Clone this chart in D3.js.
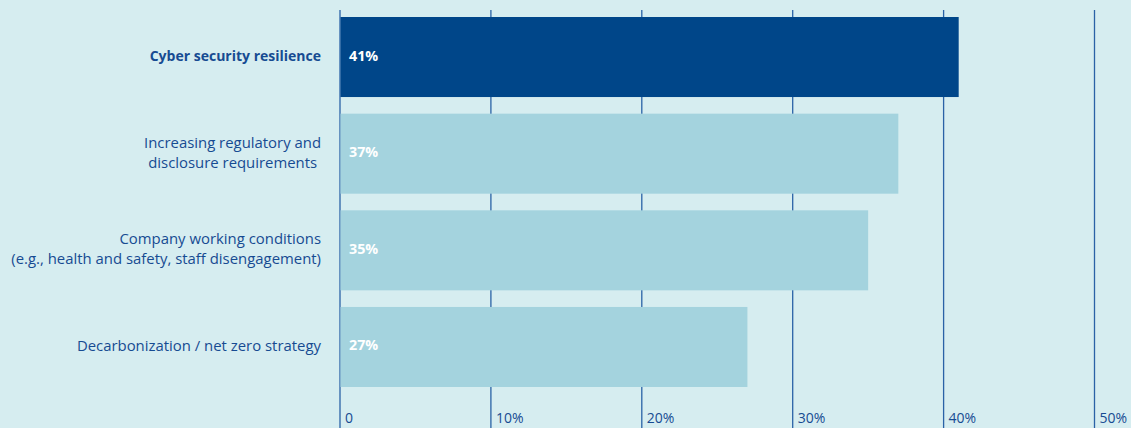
<!DOCTYPE html>
<html><head><meta charset="utf-8">
<script src="https://cdn.jsdelivr.net/npm/d3@7/dist/d3.min.js"></script>
<style>
html,body{margin:0;padding:0;background:#d6edf0;}
svg{display:block;}
text{font-family:"Open Sans",sans-serif;}
</style></head>
<body>
<script>
const categories = [
  ["Cyber security resilience"],
  ["Increasing regulatory and", "disclosure requirements "],
  ["Company working conditions", "(e.g., health and safety, staff disengagement)"],
  ["Decarbonization / net zero strategy"]
];
const values = [41, 37, 35, 27];
const highlight = [true, false, false, false];
const tickValues = [0, 10, 20, 30, 40, 50];
const tickLabels = ["0", "10%", "20%", "30%", "40%", "50%"];

const W = 1131, H = 428;
const svg = d3.select("body").append("svg").attr("width", W).attr("height", H);
svg.append("rect").attr("width", W).attr("height", H).attr("fill", "#d6edf0");

const x = d3.scaleLinear().domain([0, 50]).range([340, 1094.5]);
const y = d3.scaleBand().domain(d3.range(categories.length)).range([17, 387]).paddingInner(0.172).paddingOuter(0);

const textColor = "#164b92";
const gridColor = "#2a62a6";

// gridlines
svg.append("g").selectAll("line").data(tickValues).join("line")
  .attr("x1", d => x(d)).attr("x2", d => x(d))
  .attr("y1", 10).attr("y2", H)
  .attr("stroke", gridColor).attr("stroke-width", 1.3);

// tick labels
svg.append("g").selectAll("text").data(tickValues).join("text")
  .attr("x", d => x(d) + 5).attr("y", 423)
  .attr("fill", textColor).attr("font-size", 14)
  .text((d, i) => tickLabels[i]);

// bars
svg.append("g").selectAll("rect").data(values).join("rect")
  .attr("x", x(0) + 0.5).attr("y", (d, i) => y(i))
  .attr("width", d => x(d) - x(0) - 0.5).attr("height", y.bandwidth())
  .attr("fill", (d, i) => highlight[i] ? "#004689" : "#a4d3de");

// value labels
svg.append("g").selectAll("text").data(values).join("text")
  .attr("x", x(0) + 9).attr("y", (d, i) => y(i) + y.bandwidth() / 2 + 3.5)
  .attr("fill", "#ffffff").attr("font-size", 14.3).attr("font-weight", 700)
  .text(d => d + "%");

// category labels
const lh = 20;
const lab = svg.append("g").selectAll("text").data(categories).join("text")
  .attr("text-anchor", "end")
  .attr("fill", textColor)
  .attr("font-size", (d, i) => highlight[i] ? 14 : 14.9)
  .attr("font-weight", (d, i) => highlight[i] ? 700 : 400)
  .attr("xml:space", "preserve")
  .style("white-space", "pre");
lab.each(function(lines, i) {
  const cy = y(i) + y.bandwidth() / 2;
  const start = cy - (lines.length - 1) * lh / 2 + 4;
  d3.select(this).selectAll("tspan").data(lines).join("tspan")
    .attr("x", 321).attr("y", (d, j) => start + j * lh)
    .text(d => d);
});
</script>
</body></html>
